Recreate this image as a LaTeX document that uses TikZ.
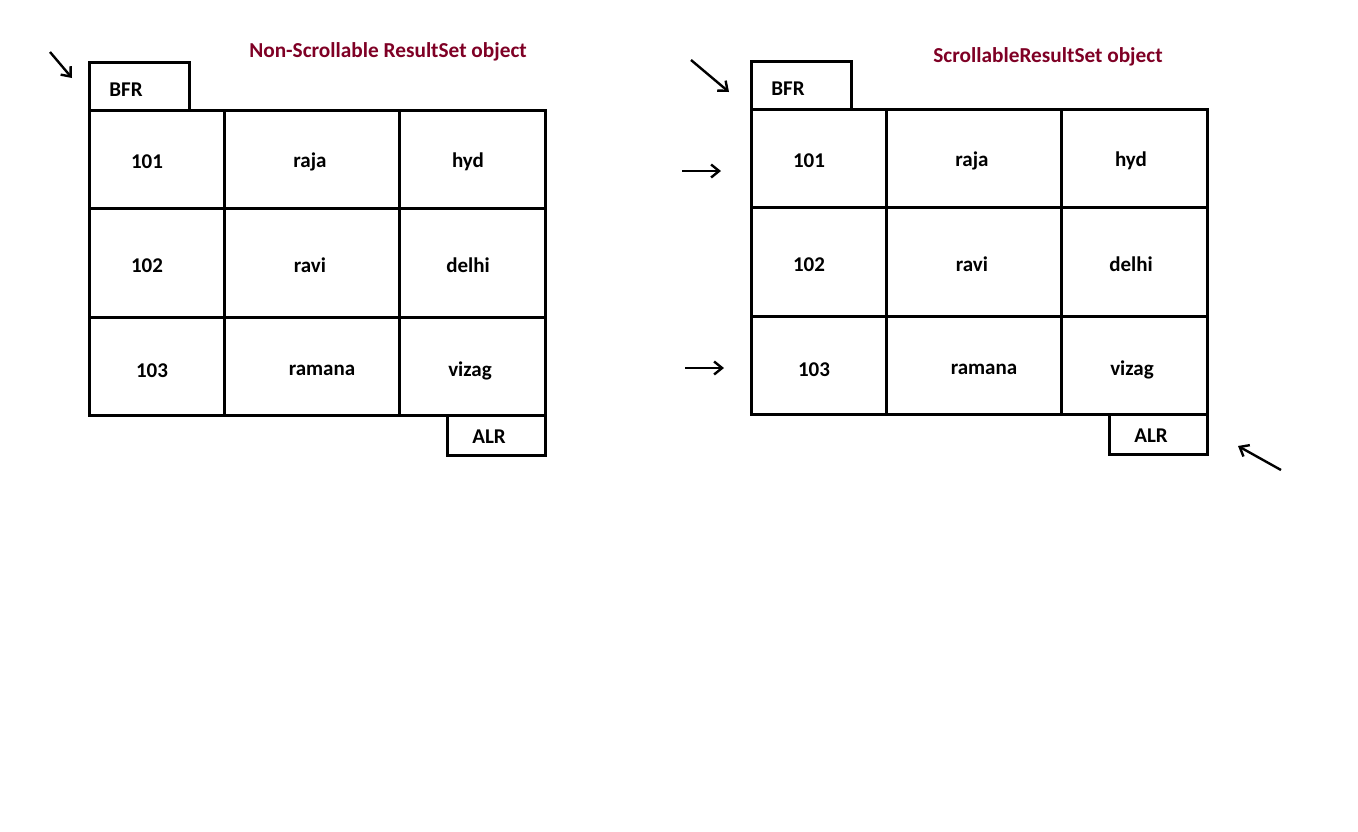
\documentclass[tikz,border=0pt]{standalone}
\usepackage{fontspec}
\setmainfont{Carlito}
\usetikzlibrary{arrows.meta}
\definecolor{titlered}{HTML}{7F0025}
\begin{document}
\begin{tikzpicture}[x=1pt,y=-1pt,
  cellline/.style={line width=3pt,line join=miter},
  lbl/.style={font=\bfseries\fontsize{21}{24}\selectfont,inner sep=0pt,anchor=center,yshift=-1.5pt},
  ttl/.style={font=\bfseries\fontsize{21.3}{24}\selectfont,text=titlered,inner sep=0pt,yshift=-1.5pt},
  pointer/.style={line width=2.4pt,-{Straight Barb[length=8pt,width=13pt,line width=2.4pt]}}]
\useasboundingbox[fill=white] (0,0) rectangle (1358,831);

% ---------- left table ----------
\draw[cellline] (89,110) -- (89,62) -- (189,62) -- (189,110);
\draw[cellline] (89,110) rectangle (545,415);
\draw[cellline] (224,110) -- (224,415);
\draw[cellline] (399,110) -- (399,415);
\draw[cellline] (89,208) -- (545,208);
\draw[cellline] (89,317) -- (545,317);
\draw[cellline] (447,415) -- (447,455) -- (545,455) -- (545,415);

\node[ttl] (t1) at (388,50) {Non-Scrollable ResultSet object};
\node[lbl] (lbfr) at (126,88) {BFR};
\node[lbl] (l101) at (147,160) {101};
\node[lbl] (lraja) at (310,160) {raja};
\node[lbl] (lhyd) at (468,160) {hyd};
\node[lbl] (l102) at (147,264) {102};
\node[lbl] (lravi) at (310,264) {ravi};
\node[lbl] (ldelhi) at (468,264) {delhi};
\node[lbl] (l103) at (152,369) {103};
\node[lbl] (lramana) at (322,369) {ramana};
\node[lbl] (lvizag) at (470,369) {vizag};
\node[lbl] (lalr) at (489,435) {ALR};

\coordinate (la0) at (50,52);
\coordinate (la1) at (72,78);
\draw[pointer] (la0) -- (la1);

% ---------- right table ----------
\draw[cellline] (751,109) -- (751,61) -- (851,61) -- (851,109);
\draw[cellline] (751,109) rectangle (1207,414);
\draw[cellline] (886,109) -- (886,414);
\draw[cellline] (1061,109) -- (1061,414);
\draw[cellline] (751,207) -- (1207,207);
\draw[cellline] (751,316) -- (1207,316);
\draw[cellline] (1109,414) -- (1109,454) -- (1207,454) -- (1207,414);

\node[ttl] (t2) at (1048,55) {ScrollableResultSet object};
\node[lbl] (rbfr) at (788,87) {BFR};
\node[lbl] (r101) at (809,159) {101};
\node[lbl] (rraja) at (972,159) {raja};
\node[lbl] (rhyd) at (1131,159) {hyd};
\node[lbl] (r102) at (809,263) {102};
\node[lbl] (rravi) at (972,263) {ravi};
\node[lbl] (rdelhi) at (1131,263) {delhi};
\node[lbl] (r103) at (814,368) {103};
\node[lbl] (rramana) at (984,368) {ramana};
\node[lbl] (rvizag) at (1132,368) {vizag};
\node[lbl] (ralr) at (1151,434) {ALR};

\coordinate (ra0) at (691,60);
\coordinate (ra1) at (729,92);
\coordinate (rb0) at (682,171);
\coordinate (rb1) at (721,171);
\coordinate (rc0) at (685,368);
\coordinate (rc1) at (724,368);
\coordinate (rd0) at (1281,470);
\coordinate (rd1) at (1238,446);
\draw[pointer] (ra0) -- (ra1);
\draw[pointer] (rb0) -- (rb1);
\draw[pointer] (rc0) -- (rc1);
\draw[pointer] (rd0) -- (rd1);
\end{tikzpicture}
\end{document}
